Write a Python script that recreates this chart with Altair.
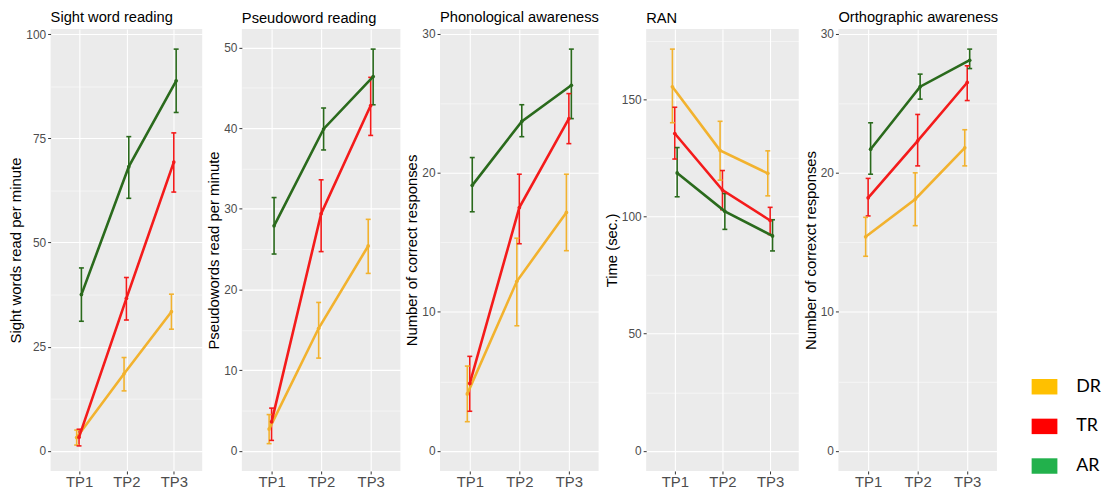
import json
import altair as alt
import pandas as pd

groups = ["DR", "TR", "AR"]
timepoints = [1, 2, 3]
line_colors = ["#F2B22E", "#F41B1B", "#2A6A1C"]
legend_colors = ["#FFC000", "#FF0000", "#22B14C"]
dodge = {"DR": -0.05, "TR": 0.0, "AR": 0.05}

titles = ["Sight word reading", "Pseudoword reading", "Phonological awareness",
          "RAN", "Orthographic awareness"]
y_titles = ["Sight words read per minute", "Pseudowords read per minute",
            "Number of correct responses", "Time (sec.)", "Number of correxct responses"]
major_ticks = [[0, 25, 50, 75, 100], [0, 10, 20, 30, 40, 50], [0, 10, 20, 30],
               [0, 50, 100, 150], [0, 10, 20, 30]]
panel_widths = [153, 160, 160, 154, 160]

# Sight word reading
sight_mean = {"DR": [3.2, 18.5, 33.4], "TR": [3.3, 36.6, 69.3], "AR": [37.5, 68.2, 88.8]}
sight_lo = {"DR": [1.4, 14.4, 29.2], "TR": [1.2, 31.4, 62.1], "AR": [31.1, 60.6, 81.2]}
sight_hi = {"DR": [5.0, 22.4, 37.6], "TR": [5.2, 41.6, 76.3], "AR": [43.9, 75.4, 96.4]}
# Pseudoword reading
pseudo_mean = {"DR": [2.7, 15.2, 25.4], "TR": [3.6, 29.4, 42.8], "AR": [27.9, 39.9, 46.4]}
pseudo_lo = {"DR": [0.9, 11.5, 22.0], "TR": [1.3, 24.7, 39.1], "AR": [24.4, 37.3, 42.9]}
pseudo_hi = {"DR": [4.5, 18.4, 28.7], "TR": [5.3, 33.6, 46.3], "AR": [31.4, 42.5, 49.8]}
# Phonological awareness
phon_mean = {"DR": [4.1, 12.2, 17.15], "TR": [4.85, 17.5, 23.9], "AR": [19.1, 23.7, 26.3]}
phon_lo = {"DR": [2.1, 9.0, 14.4], "TR": [2.85, 14.9, 22.1], "AR": [17.2, 22.6, 23.9]}
phon_hi = {"DR": [6.1, 15.3, 19.9], "TR": [6.8, 19.9, 25.7], "AR": [21.1, 24.9, 28.9]}
# RAN
ran_mean = {"DR": [155.3, 128.2, 118.4], "TR": [135.4, 111.3, 98.3], "AR": [118.6, 102.2, 91.7]}
ran_lo = {"DR": [140.0, 115.5, 108.8], "TR": [124.5, 102.9, 92.3], "AR": [108.4, 94.5, 85.3]}
ran_hi = {"DR": [171.4, 140.6, 128.0], "TR": [146.6, 119.6, 103.9], "AR": [129.4, 109.8, 98.6]}
# Orthographic awareness
orth_mean = {"DR": [15.4, 18.1, 21.8], "TR": [18.2, 22.3, 26.5], "AR": [21.7, 26.2, 28.1]}
orth_lo = {"DR": [14.0, 16.2, 20.5], "TR": [16.9, 20.5, 25.2], "AR": [19.9, 25.3, 27.5]}
orth_hi = {"DR": [16.8, 20.0, 23.1], "TR": [19.6, 24.2, 27.7], "AR": [23.6, 27.1, 28.9]}

panels_data = [(sight_mean, sight_lo, sight_hi), (pseudo_mean, pseudo_lo, pseudo_hi),
               (phon_mean, phon_lo, phon_hi), (ran_mean, ran_lo, ran_hi),
               (orth_mean, orth_lo, orth_hi)]

FONT = "Liberation Sans"
H = 446


def make_df(mean, lo, hi):
    rows = []
    for g in groups:
        for k, tp in enumerate(timepoints):
            rows.append({"group": g, "tp": tp, "xpos": tp + dodge[g],
                         "mean": mean[g][k], "lo": lo[g][k], "hi": hi[g][k]})
    return pd.DataFrame(rows)


def panel(i):
    mean, lo, hi = panels_data[i]
    df = make_df(mean, lo, hi)
    top = float(df["hi"].max())
    span = top - 0.0
    ymin, ymax = -0.05 * span, top + 0.05 * span
    major = major_ticks[i]
    step = major[1] - major[0]
    minor = [m + step / 2 for m in major if m + step / 2 < ymax]
    vals = sorted(major + minor)
    test = "indexof(%s, datum.value) >= 0" % json.dumps(major)

    yaxis = alt.Axis(values=vals, title=y_titles[i], labelExpr=f"({test}) ? datum.label : ''",
                     gridWidth={"condition": {"test": test, "value": 1.1}, "value": 0.5},
                     tickOpacity={"condition": {"test": test, "value": 1}, "value": 0},
                     labelOverlap=False, labelFlush=False, labelFontSize=12,
                     labelPadding=2, titlePadding=2)
    xaxis = alt.Axis(values=timepoints, labelExpr="'TP' + datum.value", title=None,
                     labelFontSize=15, labelPadding=1, gridWidth=1.1,
                     labelOverlap=False, labelFlush=False)
    x = alt.X("xpos:Q", scale=alt.Scale(domain=[0.4, 3.6], nice=False, zero=False), axis=xaxis)
    yscale = alt.Scale(domain=[ymin, ymax], nice=False, zero=False)
    color = alt.Color("group:N", scale=alt.Scale(domain=groups, range=line_colors), legend=None)

    base = alt.Chart(df)
    bars = base.mark_rule(strokeWidth=1.6).encode(
        x=x, y=alt.Y("lo:Q", scale=yscale, axis=yaxis), y2="hi:Q", color=color)
    cap_lo = base.mark_tick(orient="horizontal", size=5, thickness=1.6, opacity=1).encode(
        x=x, y=alt.Y("lo:Q"), color=color)
    cap_hi = base.mark_tick(orient="horizontal", size=5, thickness=1.6, opacity=1).encode(
        x=x, y=alt.Y("hi:Q"), color=color)
    lines = base.mark_line(strokeWidth=2.6).encode(
        x=x, y=alt.Y("mean:Q"), color=color, order="tp:Q")
    pts = base.mark_point(filled=True, size=14, opacity=1).encode(
        x=x, y=alt.Y("mean:Q"), color=color)

    return alt.layer(bars, cap_lo, cap_hi, lines, pts).properties(
        width=panel_widths[i], height=H,
        title=alt.TitleParams(titles[i], anchor="start", frame="group", fontSize=14.8,
                              font=FONT, fontWeight="normal", color="black", offset=3))


leg_df = pd.DataFrame({"group": groups, "fill": legend_colors})
leg_y = alt.Y("group:N", sort=groups, axis=None,
              scale=alt.Scale(type="point", range=[361, 441], padding=0))
leg_rects = alt.Chart(leg_df).mark_point(
    shape="M-1,-0.6H1V0.6H-1Z", size=676, filled=True, opacity=1, strokeWidth=0
).encode(x=alt.value(42), y=leg_y, color=alt.Color("fill:N", scale=None))
leg_text = alt.Chart(leg_df).mark_text(
    align="left", baseline="middle", fontSize=18, font="Lato", color="black"
).encode(x=alt.value(74), y=leg_y, text="group:N")
legend = alt.layer(leg_rects, leg_text).properties(
    width=60, height=H, view=alt.ViewBackground(fill="white", stroke="white", strokeWidth=0))

chart = alt.hconcat(*[panel(i) for i in range(5)], legend, spacing=4).properties(
    padding=0
).configure_view(fill="#EBEBEB", stroke=None).configure_axis(
    domain=False, tickColor="#333333", tickSize=3, labelColor="#4D4D4D",
    labelFont=FONT, titleFont=FONT, titleFontWeight="normal", titleFontSize=15,
    titleColor="black", gridColor="white"
)

chart.save("out.html", embed_options={"renderer": "svg", "actions": False})
